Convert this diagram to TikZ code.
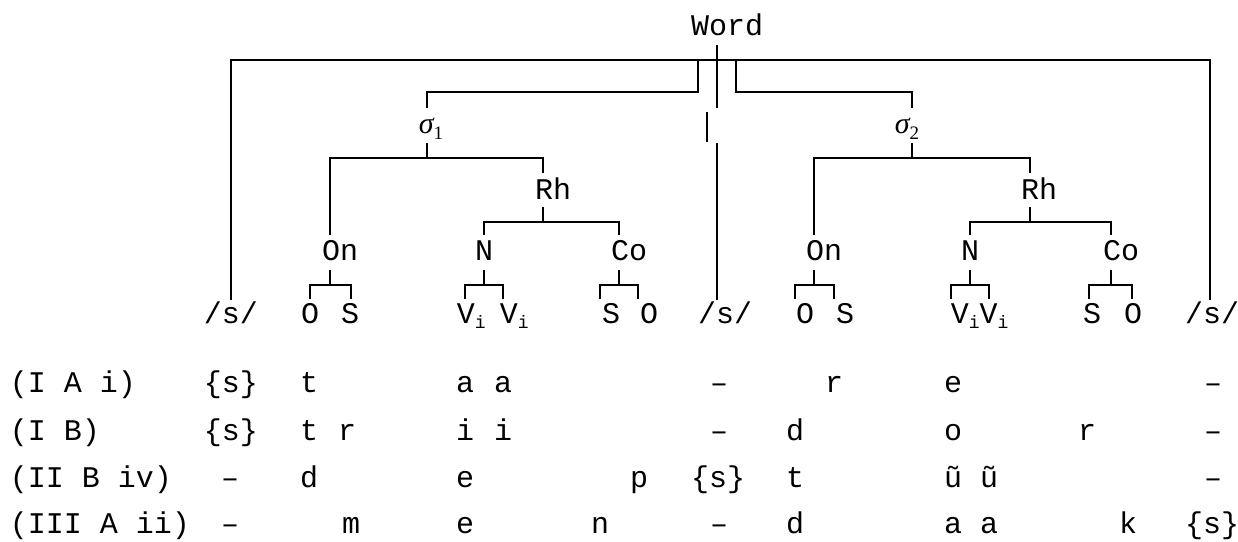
\documentclass[tikz,border=0pt]{standalone}
\usepackage{fontspec}
\setmainfont{Liberation Mono}
\newfontfamily\serifgr{Liberation Serif}
\newcommand\vsub{V\raisebox{-5pt}{\fontsize{18}{18}\selectfont i}}
\newcommand\sylsig[1]{{\serifgr\itshape σ}\raisebox{-6pt}{\serifgr\fontsize{19}{19}\selectfont #1}}
% a bar below a parent point, with two children hanging from it
\newcommand\fork[3]{%
  \draw (#1) -- ++(0,15) coordinate (#1-bar);
  \draw (#2) |- (#1-bar) -| (#3);}
\begin{document}
\begin{tikzpicture}[x=1pt,y=-1pt,line width=1.5pt,
  lbl/.style={anchor=base,inner sep=0pt,font=\fontsize{30}{36}\selectfont},
  lblw/.style={lbl,anchor=base west}]
\useasboundingbox (0,0) rectangle (1238,541);

% ---------- labels of the tree ----------
\node[lbl] (word) at (727,35) {Word};
\node[lblw] (sig1) at (418,133) {\sylsig{1}};
\node[lblw] (sig2) at (894,133) {\sylsig{2}};
\node[lbl] (rh1) at (553,199) {Rh};
\node[lbl] (rh2) at (1039,199) {Rh};
\node[lbl] (on1) at (340,260) {On};
\node[lbl] (n1)  at (484,260) {N};
\node[lbl] (co1) at (629,260) {Co};
\node[lbl] (on2) at (824,260) {On};
\node[lbl] (n2)  at (970,260) {N};
\node[lbl] (co2) at (1121,260) {Co};
\node[lbl] (sa) at (231,323) {/s/};
\node[lbl] (sb) at (725,323) {/s/};
\node[lbl] (sc) at (1212,323) {/s/};
\node[lbl] (o1a) at (310,323) {O};
\node[lbl] (s1a) at (350,323) {S};
\node[lblw] (v1a) at (456,323) {\vsub};
\node[lblw] (v1b) at (499,323) {\vsub};
\node[lbl] (s1b) at (611,323) {S};
\node[lbl] (o1b) at (649,323) {O};
\node[lbl] (o2a) at (805,323) {O};
\node[lbl] (s2a) at (845,323) {S};
\node[lblw] (v2) at (950,323) {\vsub\vsub};
\node[lbl] (s2b) at (1092,323) {S};
\node[lbl] (o2b) at (1133,323) {O};

% ---------- attachment points of the branches ----------
\coordinate (wb) at (717,45);
\coordinate (wm) at (717,108);
\coordinate (ga) at (707,112);
\coordinate (gb) at (707,142);
\coordinate (mc) at (717,143);
\coordinate (ms) at (717,300);
\coordinate (tl) at (231,60);
\coordinate (tr) at (1210,60);
\coordinate (sal) at (231,300);
\coordinate (scl) at (1210,300);
\coordinate (lb) at (698,60);
\coordinate (lbb) at (698,92);
\coordinate (rb) at (736,60);
\coordinate (rbb) at (736,92);
\coordinate (s1u) at (427,108);
\coordinate (s2u) at (912,108);
\coordinate (s1d) at (427,143);
\coordinate (s2d) at (912,143);
\coordinate (on1u) at (330,235);
\coordinate (rh1u) at (543,173);
\coordinate (rh1d) at (543,207);
\coordinate (n1u) at (484,235);
\coordinate (co1u) at (619,235);
\coordinate (on1d) at (330,270);
\coordinate (n1d) at (484,270);
\coordinate (co1d) at (619,270);
\coordinate (o1au) at (310,299);
\coordinate (s1au) at (351,299);
\coordinate (v1au) at (465,299);
\coordinate (v1bu) at (503,299);
\coordinate (s1bu) at (600,299);
\coordinate (o1bu) at (638,299);
\coordinate (on2u) at (814,235);
\coordinate (rh2u) at (1030,173);
\coordinate (rh2d) at (1030,207);
\coordinate (n2u) at (970,235);
\coordinate (co2u) at (1111,235);
\coordinate (on2d) at (814,270);
\coordinate (n2d) at (970,270);
\coordinate (co2d) at (1111,270);
\coordinate (o2au) at (795,299);
\coordinate (s2au) at (834,299);
\coordinate (v2au) at (951,299);
\coordinate (v2bu) at (989,299);
\coordinate (s2bu) at (1089,299);
\coordinate (o2bu) at (1132,299);

% ---------- word level ----------
\draw (wb) -- (wm);
\draw (ga) -- (gb);
\draw (mc) -- (ms);
\draw (sal) -- (tl) -- (tr) -- (scl);
\draw (lb) -- (lbb) -| (s1u);
\draw (rb) -- (rbb) -| (s2u);

% ---------- syllables ----------
\fork{s1d}{on1u}{rh1u}
\fork{rh1d}{n1u}{co1u}
\fork{on1d}{o1au}{s1au}
\fork{n1d}{v1au}{v1bu}
\fork{co1d}{s1bu}{o1bu}
\fork{s2d}{on2u}{rh2u}
\fork{rh2d}{n2u}{co2u}
\fork{on2d}{o2au}{s2au}
\fork{n2d}{v2au}{v2bu}
\fork{co2d}{s2bu}{o2bu}

% ---------- example rows ----------
\node[lblw] (la) at (9,392) {(I A i)};
\node[lblw] (lb2) at (9,440) {(I B)};
\node[lblw] (lc) at (9,487) {(II B iv)};
\node[lblw] (ld) at (9,533) {(III A ii)};
\foreach \x/\t [count=\i] in {231/\{s\},309/t,465/a,503/a,719/–,834/r,953/e,1213/–}
  \node[lbl] (ra\i) at (\x,392) {\t};
\foreach \x/\t [count=\i] in {231/\{s\},309/t,347/r,465/i,503/i,719/–,795/d,953/o,1087/r,1213/–}
  \node[lbl] (rb\i) at (\x,440) {\t};
\foreach \x/\t [count=\i] in {230/–,309/d,465/e,639/p,718/\{s\},795/t,953/ũ,989/ũ,1213/–}
  \node[lbl] (rc\i) at (\x,487) {\t};
\foreach \x/\t [count=\i] in {230/–,351/m,465/e,600/n,719/–,795/d,953/a,989/a,1128/k,1212/\{s\}}
  \node[lbl] (rd\i) at (\x,533) {\t};
\end{tikzpicture}
\end{document}
